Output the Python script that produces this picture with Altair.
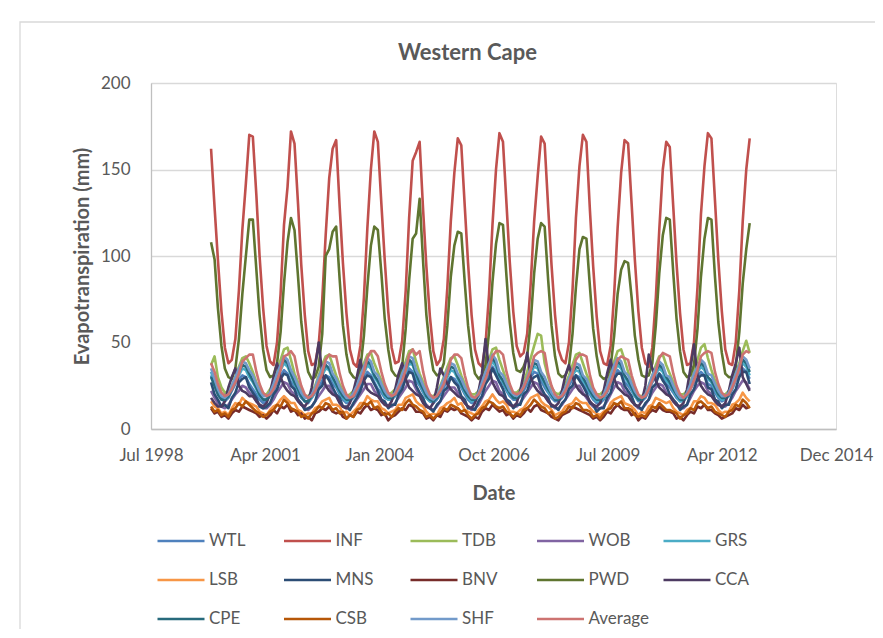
import altair as alt
import pandas as pd

series_names = ["WTL", "INF", "TDB", "WOB", "GRS", "LSB", "MNS", "BNV",
                "PWD", "CCA", "CPE", "CSB", "SHF", "Average"]
series_colors = ["#4F81BD", "#C0504D", "#9BBB59", "#8064A2", "#4BACC6", "#F79646",
                 "#2C4D75", "#772C2A", "#5F7530", "#4D3B62", "#276A7C", "#B65708",
                 "#729ACA", "#CD7371"]

# Monthly values, Jan 2000 .. Dec 2012, one row per year (Jan..Dec)
WTL = [
    [31, 25, 20, 17, 16, 18, 22, 26, 29, 31, 30, 26],
    [23, 20, 17, 15, 16, 19, 22, 27, 31, 34, 32, 27],
    [25, 21, 18, 16, 15, 18, 21, 24, 28, 31, 30, 26],
    [24, 20, 17, 15, 16, 18, 20, 25, 30, 33, 31, 27],
    [23, 21, 18, 17, 17, 19, 22, 26, 31, 35, 33, 28],
    [25, 21, 18, 16, 15, 17, 20, 24, 28, 30, 29, 26],
    [24, 20, 17, 15, 16, 19, 23, 28, 32, 36, 33, 27],
    [26, 22, 19, 17, 17, 19, 22, 26, 30, 33, 32, 28],
    [24, 21, 18, 16, 16, 18, 21, 25, 29, 31, 30, 26],
    [23, 20, 17, 15, 15, 17, 21, 26, 31, 34, 32, 27],
    [25, 22, 19, 16, 16, 18, 22, 27, 30, 32, 30, 26],
    [24, 21, 18, 16, 16, 19, 23, 27, 31, 33, 31, 26],
    [25, 21, 18, 16, 17, 19, 23, 28, 32, 35, 33, 29],
]
INF = [
    [162, 128, 98, 68, 47, 38, 40, 52, 80, 115, 142, 170],
    [169, 135, 100, 70, 48, 39, 37, 50, 78, 118, 140, 172],
    [165, 130, 95, 66, 45, 37, 38, 49, 75, 112, 145, 162],
    [167, 128, 96, 67, 46, 38, 36, 48, 76, 116, 150, 172],
    [166, 130, 98, 68, 47, 38, 39, 51, 80, 122, 155, 160],
    [166, 126, 94, 65, 45, 37, 40, 52, 82, 120, 148, 168],
    [164, 128, 96, 66, 46, 38, 36, 49, 78, 118, 150, 171],
    [166, 130, 97, 68, 48, 42, 44, 55, 84, 120, 146, 169],
    [165, 128, 95, 66, 46, 40, 38, 50, 80, 122, 152, 170],
    [166, 126, 94, 65, 45, 38, 37, 48, 78, 116, 148, 167],
    [165, 130, 98, 68, 47, 38, 36, 47, 76, 115, 150, 166],
    [163, 128, 96, 67, 46, 37, 38, 50, 82, 124, 152, 171],
    [168, 132, 98, 68, 46, 38, 37, 50, 80, 120, 150, 168],
]
TDB = [
    [37, 42, 30, 24, 21, 22, 25, 30, 36, 41, 42, 38],
    [33, 27, 23, 20, 20, 23, 27, 33, 40, 46, 47, 40],
    [32, 27, 22, 19, 19, 21, 25, 31, 37, 42, 43, 37],
    [31, 26, 22, 19, 20, 22, 26, 32, 38, 43, 44, 38],
    [33, 28, 23, 20, 21, 23, 27, 33, 39, 45, 46, 39],
    [32, 27, 22, 19, 19, 21, 25, 30, 36, 41, 42, 37],
    [31, 26, 22, 20, 20, 22, 27, 33, 40, 46, 47, 40],
    [34, 28, 24, 21, 21, 23, 27, 33, 41, 48, 55, 54],
    [38, 30, 24, 21, 20, 22, 26, 31, 37, 43, 44, 38],
    [32, 27, 23, 20, 20, 22, 26, 32, 39, 45, 46, 40],
    [33, 27, 22, 19, 19, 21, 25, 31, 37, 42, 43, 37],
    [32, 27, 23, 20, 20, 22, 27, 33, 40, 47, 49, 41],
    [34, 28, 23, 20, 20, 22, 26, 32, 38, 45, 51, 44],
]
WOB = [
    [22, 18, 15, 13, 12, 14, 17, 20, 22, 25, 24, 21],
    [19, 16, 14, 12, 12, 14, 17, 21, 24, 27, 26, 22],
    [20, 17, 14, 12, 11, 13, 16, 19, 22, 25, 25, 21],
    [19, 16, 13, 12, 12, 14, 17, 20, 23, 26, 26, 22],
    [20, 17, 15, 13, 13, 15, 18, 21, 24, 28, 27, 23],
    [19, 16, 14, 12, 11, 13, 16, 19, 22, 24, 24, 21],
    [18, 15, 13, 11, 12, 14, 18, 22, 25, 28, 27, 22],
    [20, 17, 15, 13, 13, 15, 18, 21, 24, 27, 26, 22],
    [19, 16, 14, 12, 12, 14, 17, 20, 23, 25, 25, 21],
    [18, 15, 13, 12, 12, 13, 16, 20, 24, 27, 26, 22],
    [20, 17, 14, 12, 12, 14, 17, 21, 24, 26, 25, 21],
    [19, 16, 14, 12, 12, 14, 18, 22, 25, 27, 26, 22],
    [20, 17, 15, 13, 13, 15, 18, 22, 25, 28, 27, 23],
]
GRS = [
    [33, 27, 21, 18, 17, 19, 23, 27, 31, 35, 34, 30],
    [27, 23, 19, 17, 17, 20, 24, 29, 34, 38, 36, 31],
    [26, 22, 19, 16, 16, 18, 22, 27, 31, 35, 34, 29],
    [25, 21, 18, 16, 17, 19, 23, 28, 32, 37, 35, 30],
    [27, 23, 19, 17, 17, 20, 24, 29, 33, 38, 37, 31],
    [26, 22, 18, 16, 16, 18, 22, 26, 30, 34, 33, 29],
    [25, 21, 18, 16, 17, 20, 25, 30, 35, 39, 36, 30],
    [27, 23, 20, 18, 18, 20, 24, 28, 32, 36, 35, 30],
    [26, 22, 19, 17, 17, 19, 22, 27, 31, 34, 33, 28],
    [25, 21, 18, 16, 16, 18, 22, 27, 33, 37, 35, 30],
    [27, 23, 19, 17, 17, 19, 23, 28, 32, 35, 33, 28],
    [26, 22, 19, 16, 16, 19, 24, 29, 33, 36, 34, 29],
    [27, 23, 19, 17, 17, 20, 24, 29, 34, 38, 36, 31],
]
LSB = [
    [16, 13, 12, 9, 10, 8, 12, 15, 14, 18, 16, 15],
    [14, 13, 10, 9, 8, 11, 13, 14, 17, 19, 17, 15],
    [15, 11, 10, 8, 9, 9, 12, 13, 16, 17, 18, 14],
    [14, 13, 9, 10, 8, 10, 12, 15, 15, 19, 17, 16],
    [16, 12, 11, 9, 10, 11, 14, 14, 18, 19, 20, 16],
    [14, 13, 10, 8, 9, 8, 12, 13, 15, 16, 18, 14],
    [15, 11, 10, 9, 8, 11, 13, 16, 17, 20, 17, 15],
    [16, 14, 10, 10, 9, 11, 12, 15, 18, 19, 20, 16],
    [14, 13, 11, 8, 9, 10, 13, 14, 15, 18, 16, 15],
    [15, 12, 10, 9, 8, 10, 11, 15, 17, 18, 19, 15],
    [14, 13, 11, 8, 10, 9, 13, 14, 18, 17, 16, 15],
    [16, 12, 10, 9, 8, 11, 12, 16, 16, 19, 18, 15],
    [15, 14, 11, 9, 10, 10, 14, 15, 17, 21, 18, 16],
]
MNS = [
    [27, 20, 17, 13, 14, 12, 18, 21, 27, 29, 30, 24],
    [21, 18, 13, 12, 13, 15, 20, 23, 29, 32, 31, 25],
    [23, 17, 15, 11, 12, 13, 16, 23, 25, 31, 28, 24],
    [20, 18, 13, 13, 11, 15, 18, 22, 28, 31, 30, 26],
    [22, 17, 16, 12, 14, 14, 20, 23, 29, 33, 32, 25],
    [21, 18, 13, 12, 10, 14, 16, 22, 24, 30, 27, 25],
    [19, 17, 12, 12, 11, 16, 19, 26, 29, 35, 31, 27],
    [23, 17, 16, 12, 14, 14, 20, 22, 28, 30, 31, 24],
    [20, 18, 13, 13, 11, 15, 17, 23, 25, 31, 28, 25],
    [21, 15, 14, 10, 12, 12, 18, 21, 29, 32, 32, 25],
    [22, 19, 14, 13, 11, 15, 17, 24, 26, 32, 28, 25],
    [20, 17, 15, 11, 13, 14, 20, 23, 29, 31, 31, 24],
    [23, 17, 16, 12, 14, 14, 20, 23, 30, 33, 33, 26],
]
BNV = [
    [12, 9, 10, 7, 8, 6, 9, 11, 10, 13, 12, 11],
    [10, 9, 7, 8, 6, 8, 11, 9, 13, 12, 14, 10],
    [11, 8, 9, 6, 7, 5, 9, 10, 12, 11, 13, 10],
    [9, 10, 7, 6, 8, 7, 10, 9, 12, 14, 11, 12],
    [11, 8, 9, 5, 7, 8, 10, 12, 11, 14, 13, 10],
    [10, 9, 6, 7, 5, 8, 7, 11, 10, 12, 11, 12],
    [9, 8, 7, 5, 7, 6, 10, 12, 11, 14, 12, 10],
    [11, 8, 9, 6, 8, 7, 9, 12, 10, 13, 14, 11],
    [10, 9, 7, 6, 5, 8, 9, 10, 13, 12, 11, 10],
    [9, 8, 6, 7, 5, 7, 10, 9, 12, 14, 12, 11],
    [11, 8, 9, 5, 7, 6, 9, 11, 10, 13, 11, 10],
    [10, 9, 6, 7, 5, 8, 10, 9, 13, 12, 14, 11],
    [11, 9, 8, 6, 7, 8, 9, 12, 11, 14, 12, 13],
]
PWD = [
    [108, 98, 70, 48, 35, 30, 29, 35, 52, 78, 100, 121],
    [121, 92, 66, 46, 34, 30, 31, 38, 56, 84, 108, 122],
    [115, 88, 62, 44, 33, 29, 30, 36, 55, 100, 104, 114],
    [117, 86, 60, 43, 33, 30, 29, 35, 54, 82, 106, 117],
    [115, 90, 64, 46, 34, 31, 30, 36, 58, 86, 110, 113],
    [133, 96, 66, 46, 34, 31, 32, 38, 60, 88, 106, 114],
    [113, 84, 60, 42, 32, 29, 31, 37, 56, 85, 107, 119],
    [118, 88, 62, 44, 34, 33, 36, 42, 62, 90, 110, 119],
    [117, 86, 60, 42, 32, 30, 31, 36, 55, 82, 104, 111],
    [110, 82, 58, 42, 31, 29, 30, 36, 54, 78, 92, 97],
    [96, 76, 54, 40, 31, 30, 31, 38, 60, 90, 112, 122],
    [121, 90, 64, 45, 33, 30, 31, 37, 58, 88, 110, 122],
    [121, 88, 62, 44, 32, 30, 30, 36, 56, 84, 104, 119],
]
CCA = [
    [18, 15, 13, 13, 16, 24, 30, 35, 25, 22, 21, 19],
    [19, 16, 14, 13, 15, 21, 30, 38, 30, 25, 22, 20],
    [19, 16, 14, 13, 16, 24, 36, 50, 32, 25, 22, 20],
    [19, 15, 13, 12, 15, 22, 30, 40, 28, 23, 21, 20],
    [19, 16, 14, 13, 16, 23, 32, 38, 29, 24, 22, 20],
    [19, 15, 13, 12, 15, 24, 35, 31, 26, 23, 21, 19],
    [18, 15, 13, 12, 15, 22, 32, 52, 35, 27, 23, 20],
    [19, 16, 14, 13, 15, 22, 32, 44, 30, 25, 22, 20],
    [19, 16, 14, 13, 15, 22, 31, 37, 30, 25, 22, 20],
    [19, 16, 14, 13, 15, 22, 32, 40, 29, 24, 22, 20],
    [19, 16, 14, 13, 16, 25, 43, 35, 28, 24, 22, 20],
    [19, 16, 14, 13, 15, 23, 35, 49, 31, 25, 22, 20],
    [19, 16, 14, 13, 15, 22, 31, 38, 47, 30, 26, 22],
]
CPE = [
    [30, 25, 20, 17, 17, 19, 23, 28, 33, 37, 36, 32],
    [28, 24, 20, 17, 17, 20, 25, 31, 36, 40, 38, 32],
    [27, 23, 19, 16, 16, 19, 23, 28, 33, 37, 35, 30],
    [26, 22, 19, 17, 17, 19, 24, 29, 34, 39, 37, 31],
    [28, 24, 20, 18, 18, 20, 25, 30, 35, 40, 38, 32],
    [27, 23, 19, 17, 16, 18, 22, 27, 32, 36, 35, 30],
    [26, 22, 19, 17, 17, 20, 26, 32, 37, 41, 38, 31],
    [28, 24, 21, 18, 18, 20, 24, 29, 34, 38, 37, 31],
    [27, 23, 20, 17, 17, 19, 23, 28, 33, 36, 35, 30],
    [26, 22, 19, 17, 17, 19, 24, 29, 35, 39, 37, 31],
    [28, 24, 20, 17, 17, 19, 24, 29, 34, 37, 35, 30],
    [27, 23, 20, 17, 17, 20, 25, 30, 35, 38, 36, 30],
    [28, 24, 20, 18, 18, 20, 25, 31, 36, 40, 38, 33],
]
CSB = [
    [13, 10, 11, 8, 9, 7, 11, 12, 15, 13, 16, 14],
    [12, 10, 9, 7, 8, 10, 11, 14, 13, 17, 15, 12],
    [11, 10, 7, 8, 6, 9, 10, 13, 12, 15, 14, 11],
    [12, 9, 10, 6, 8, 7, 11, 12, 15, 14, 16, 12],
    [13, 10, 8, 9, 7, 10, 12, 11, 15, 17, 14, 13],
    [11, 10, 7, 8, 6, 8, 9, 12, 11, 14, 13, 12],
    [10, 11, 8, 6, 8, 9, 12, 13, 16, 15, 13, 12],
    [13, 10, 9, 7, 9, 8, 11, 12, 14, 17, 15, 13],
    [12, 9, 10, 6, 7, 9, 10, 13, 12, 15, 14, 11],
    [11, 10, 7, 8, 6, 9, 11, 12, 15, 14, 16, 12],
    [12, 11, 8, 7, 8, 7, 10, 13, 12, 15, 13, 11],
    [11, 10, 9, 6, 8, 9, 12, 11, 15, 16, 14, 12],
    [13, 10, 9, 8, 7, 10, 11, 14, 13, 17, 15, 12],
]
SHF = [
    [35, 29, 23, 19, 18, 20, 25, 30, 35, 39, 38, 34],
    [31, 26, 22, 19, 19, 21, 26, 32, 37, 42, 40, 34],
    [30, 25, 21, 18, 18, 20, 24, 30, 35, 39, 38, 32],
    [29, 24, 21, 18, 18, 21, 25, 31, 36, 41, 39, 33],
    [31, 26, 22, 19, 19, 21, 26, 32, 37, 42, 41, 34],
    [30, 25, 21, 18, 17, 19, 24, 29, 34, 38, 37, 32],
    [29, 24, 21, 18, 18, 21, 27, 33, 38, 43, 40, 33],
    [31, 26, 22, 20, 19, 21, 25, 30, 35, 40, 39, 33],
    [30, 25, 21, 18, 18, 20, 24, 29, 34, 38, 37, 31],
    [29, 24, 21, 18, 18, 20, 25, 31, 37, 41, 39, 33],
    [31, 26, 22, 19, 18, 20, 25, 31, 35, 39, 37, 31],
    [30, 25, 21, 18, 18, 21, 26, 32, 36, 40, 38, 32],
    [31, 26, 22, 19, 19, 21, 26, 32, 37, 42, 40, 35],
]
Average = [
    [38, 33, 26, 21, 19, 20, 23, 27, 32, 39, 41, 43],
    [43, 33, 26, 21, 19, 20, 23, 28, 34, 42, 43, 45],
    [42, 32, 25, 20, 18, 19, 22, 27, 32, 40, 43, 42],
    [42, 32, 25, 20, 18, 19, 23, 27, 33, 41, 45, 45],
    [42, 33, 26, 21, 19, 20, 24, 28, 34, 43, 46, 43],
    [45, 33, 25, 20, 18, 19, 22, 26, 32, 40, 43, 43],
    [41, 31, 24, 19, 18, 20, 24, 29, 35, 42, 45, 45],
    [43, 33, 26, 21, 20, 21, 24, 29, 34, 42, 44, 45],
    [44, 32, 25, 20, 18, 19, 22, 27, 32, 40, 43, 43],
    [42, 31, 24, 20, 18, 19, 22, 27, 33, 40, 42, 41],
    [40, 31, 25, 20, 18, 19, 23, 28, 33, 41, 44, 43],
    [42, 32, 25, 20, 18, 20, 23, 28, 34, 42, 44, 45],
    [44, 33, 26, 21, 19, 20, 24, 29, 35, 43, 45, 44],
]

series_values = [WTL, INF, TDB, WOB, GRS, LSB, MNS, BNV, PWD, CCA, CPE, CSB, SHF, Average]
dates = pd.date_range("2000-01-01", periods=156, freq="MS").strftime("%Y-%m-%d").tolist()

rows = []
for name, table in zip(series_names, series_values):
    flat = [v for year in table for v in year]
    for d, v in zip(dates, flat):
        rows.append({"Date": d, "Series": name, "ET": v})
df = pd.DataFrame(rows)

tick_dates = [(1998, 7, 24), (2001, 4, 19), (2004, 1, 14), (2006, 10, 10),
              (2009, 7, 6), (2012, 4, 1), (2014, 12, 27)]
tick_values = [alt.DateTime(year=y, month=m, date=d, utc=True) for y, m, d in tick_dates]

FONT = "Lato"
TEXT = "#595959"

lines = alt.Chart(df).mark_line(strokeWidth=2.6, strokeJoin="round").encode(
    x=alt.X("Date:T",
            scale=alt.Scale(type="utc", domain=[tick_values[0], tick_values[-1]], nice=False),
            axis=alt.Axis(title="Date", values=tick_values, format="%b %Y",
                          grid=False, ticks=False, labelPadding=18, labelFontSize=17,
                          labelColor=TEXT, labelFont=FONT, domainColor="#BFBFBF",
                          domainWidth=1.3, titleFont=FONT, titleFontSize=20,
                          titleFontWeight="bold", titleColor=TEXT, titleY=70,
                          titleBaseline="alphabetic", labelOverlap=False, labelFlush=False)),
    y=alt.Y("ET:Q",
            scale=alt.Scale(domain=[0, 200], nice=False),
            axis=alt.Axis(title="Evapotranspiration (mm)", values=[0, 50, 100, 150, 200],
                          ticks=False, labelPadding=21, labelFontSize=17, labelColor=TEXT,
                          labelFont=FONT, gridColor="#D9D9D9", gridWidth=1.3,
                          domainColor="#BFBFBF", domainWidth=1.3, titleFont=FONT,
                          titleFontSize=20, titleFontWeight="bold", titleColor=TEXT,
                          titleX=-63, titleY=173, titleAngle=270, titleAlign="center",
                          titleBaseline="alphabetic")),
    color=alt.Color("Series:N",
                    scale=alt.Scale(domain=series_names, range=series_colors),
                    legend=alt.Legend(title=None, orient="none", legendX=5, legendY=433,
                                      direction="horizontal", columns=5, gridAlign="all",
                                      symbolType="stroke", symbolSize=2209,
                                      symbolStrokeWidth=2.6, labelFontSize=17,
                                      labelFont=FONT, labelColor=TEXT, labelOffset=3,
                                      columnPadding=8.5, rowPadding=6, padding=0)),
)

frame = alt.Chart(pd.DataFrame({"k": [0]})).mark_rect(
    fill=None, stroke="#D9D9D9", strokeWidth=1.3
).encode(x=alt.value(-131), x2=alt.value(1000), y=alt.value(-61), y2=alt.value(700))

chart = alt.layer(frame, lines).properties(
    width=685,
    height=346,
    title=alt.TitleParams("Western Cape", font=FONT, fontSize=22, fontWeight="bold",
                          color=TEXT, anchor="middle", dx=-26, dy=86, offset=25,
                          baseline="alphabetic"),
    autosize=alt.AutoSizeParams(type="none"),
    padding={"left": 143, "top": 75, "right": 39, "bottom": 200},
).configure_view(stroke=None).configure(background="white")

chart.save("out.html", embed_options={"renderer": "svg", "actions": False})
